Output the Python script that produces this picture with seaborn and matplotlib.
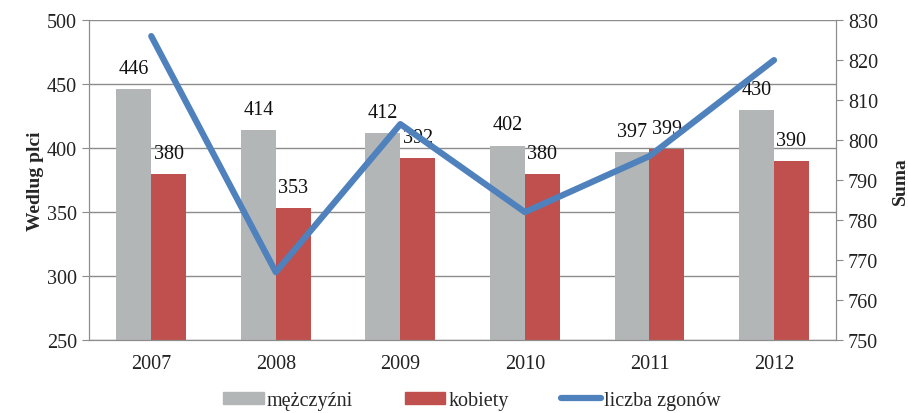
import numpy as np
import pandas as pd
import matplotlib
matplotlib.use("Agg")
import matplotlib.pyplot as plt
import seaborn as sns

years = ["2007", "2008", "2009", "2010", "2011", "2012"]
men = [446, 414, 412, 402, 397, 430]
women = [380, 353, 392, 380, 399, 390]
total = [826, 767, 804, 782, 796, 820]

sns.set_style("white")
plt.rcParams["font.family"] = ["Liberation Serif", "DejaVu Serif"]

df = pd.DataFrame({
    "rok": years * 2,
    "wartosc": men + women,
    "plec": ["mężczyźni"] * len(years) + ["kobiety"] * len(years),
})

fig = plt.figure(figsize=(9.08, 4.14), dpi=100)
ax = fig.add_axes([0.098, 0.176, 0.823, 0.773])

sns.barplot(data=df, x="rok", y="wartosc", hue="plec",
            palette=["#b3b6b7", "#c0504d"], width=0.56, gap=0,
            saturation=1, linewidth=0, ax=ax, legend=False)

for cont in ax.containers:
    ax.bar_label(cont, padding=8, fontsize=14.5, color="#111111")

ax.set_ylim(250, 500)
ax.set_yticks(range(250, 501, 50))
ax.set_xlabel("")
ax.set_ylabel("Wedlug plci", fontsize=14, fontweight="bold", labelpad=2)
ax.yaxis.grid(True, color="#8c8c8c", lw=1)
ax.set_axisbelow(True)
for s in ["left", "bottom", "right"]:
    ax.spines[s].set_color("#8c8c8c")
ax.spines["top"].set_visible(False)
ax.tick_params(axis="both", labelsize=14.5, colors="#222222", length=5,
               color="#8c8c8c", direction="out")
ax.tick_params(axis="x", pad=10)
ax.set_xticks(np.arange(len(years)) - 0.5, minor=True)
ax.tick_params(axis="x", which="major", length=0)
ax.tick_params(axis="x", which="minor", length=5, color="#8c8c8c")
ax.set_xlim(-0.5, len(years) - 0.5)

ax2 = ax.twinx()
sns.lineplot(x=np.arange(len(years)), y=total, ax=ax2, color="#4f81bd",
             lw=4.5, solid_capstyle="round")
ax2.set_ylim(750, 830)
ax2.set_yticks(range(750, 831, 10))
ax2.set_ylabel("Suma", fontsize=14, fontweight="bold", labelpad=10)
for s in ["left", "bottom", "right"]:
    ax2.spines[s].set_color("#8c8c8c")
ax2.spines["top"].set_visible(False)
ax2.tick_params(axis="y", labelsize=14.5, colors="#222222", length=5,
                color="#8c8c8c")
ax2.set_xlim(-0.5, len(years) - 0.5)

handles = [
    plt.Rectangle((0, 0), 1, 1, color="#b3b6b7"),
    plt.Rectangle((0, 0), 1, 1, color="#c0504d"),
    plt.Line2D([0], [0], color="#4f81bd", lw=4.5, solid_capstyle="round"),
]
fig.legend(handles, ["mężczyźni", "kobiety", "liczba zgonów"],
           loc="center", bbox_to_anchor=(0.52, 0.03), ncol=3, frameon=False,
           fontsize=14.5, handlelength=2.0, handleheight=0.6,
           columnspacing=2.6, handletextpad=0.15, borderpad=0)

fig.savefig("out.png", dpi=100)
